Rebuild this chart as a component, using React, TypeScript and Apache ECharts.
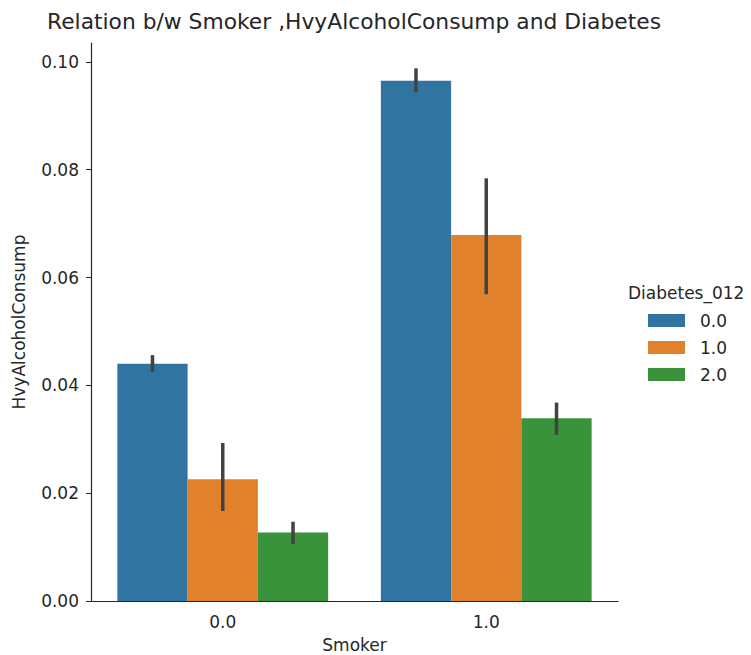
import React, { useEffect, useRef } from "react";
import * as echarts from "echarts";

// Smoker categories on the x axis, Diabetes_012 levels as hue
const smokerCategories = ["0.0", "1.0"];
const diabetesLevels = ["0.0", "1.0", "2.0"];

// Mean HvyAlcoholConsump per (Smoker, Diabetes_012)
const meanDiabetes0 = [0.044, 0.0965];
const meanDiabetes1 = [0.0226, 0.0679];
const meanDiabetes2 = [0.0127, 0.0339];

// 95% confidence interval bounds [low, high] per smoker category
const ciDiabetes0 = [
  [0.0425, 0.0456],
  [0.0944, 0.0988],
];
const ciDiabetes1 = [
  [0.0167, 0.0293],
  [0.0569, 0.0784],
];
const ciDiabetes2 = [
  [0.0106, 0.0147],
  [0.0308, 0.0368],
];

const yTicks = [0, 0.02, 0.04, 0.06, 0.08, 0.1];

const palette = ["#3274a1", "#e1812c", "#3a923a"];
const FONT = "DejaVu Sans";
const INK = "#262626";

export default function App() {
  const ref = useRef<HTMLDivElement>(null);

  useEffect(() => {
    document.body.style.margin = "0";
    if (!ref.current) return;
    const chart = echarts.init(ref.current, undefined, { renderer: "svg" });

    const means = [meanDiabetes0, meanDiabetes1, meanDiabetes2];
    const cis = [ciDiabetes0, ciDiabetes1, ciDiabetes2];

    const errData: number[][] = [];
    cis.forEach((ci, hue) => {
      ci.forEach(([lo, hi], cat) => errData.push([cat, hue, lo, hi]));
    });

    const barSeries = diabetesLevels.map((lvl, i) => ({
      name: lvl,
      type: "bar",
      data: means[i],
      barGap: "0%",
      barCategoryGap: "20%",
      itemStyle: { color: palette[i] },
      z: 2,
    }));

    chart.setOption({
      animation: false,
      textStyle: { fontFamily: FONT },
      title: {
        text: "Relation b/w Smoker ,HvyAlcoholConsump and Diabetes",
        left: 354,
        textAlign: "center",
        top: 10,
        padding: 0,
        textStyle: { fontFamily: FONT, fontSize: 21.8, fontWeight: "normal", color: INK },
      },
      legend: {
        orient: "vertical",
        left: 648,
        top: 312,
        padding: 0,
        itemWidth: 37,
        itemHeight: 13,
        itemGap: 10,
        icon: "rect",
        data: diabetesLevels,
        textStyle: { fontFamily: FONT, fontSize: 17, color: INK, padding: [0, 0, 0, 10] },
      },
      graphic: [
        {
          type: "text",
          left: 628,
          top: 284,
          style: { text: "Diabetes_012", fontFamily: FONT, fontSize: 17, fill: INK },
        },
      ],
      grid: {
        left: 91,
        right: 133,
        top: 43,
        bottom: 54,
        containLabel: false,
        outerBoundsMode: "none",
      },
      xAxis: {
        type: "category",
        data: smokerCategories,
        name: "Smoker",
        nameLocation: "middle",
        nameGap: 35,
        nameTextStyle: { fontFamily: FONT, fontSize: 17, color: INK },
        axisLine: { lineStyle: { color: INK, width: 1.2 } },
        axisTick: { alignWithLabel: true, length: 5, lineStyle: { color: INK } },
        axisLabel: { fontFamily: FONT, fontSize: 17, color: INK, margin: 12 },
      },
      yAxis: {
        type: "value",
        min: 0,
        max: 0.1035,
        name: "HvyAlcoholConsump",
        nameLocation: "middle",
        nameGap: 64,
        nameTextStyle: { fontFamily: FONT, fontSize: 17, color: INK },
        splitLine: { show: false },
        axisLine: { show: true, lineStyle: { color: INK, width: 1.2 } },
        axisTick: { show: true, length: 5, customValues: yTicks, lineStyle: { color: INK } },
        axisLabel: {
          fontFamily: FONT,
          fontSize: 17,
          color: INK,
          margin: 12,
          customValues: yTicks,
          formatter: (v: number) => v.toFixed(2),
        },
      },
      series: [
        ...barSeries,
        {
          type: "custom",
          name: "ci",
          z: 5,
          data: errData,
          encode: { x: 0, y: [2, 3] },
          renderItem: (params: any, api: any) => {
            const cat = api.value(0);
            const hue = api.value(1);
            const lo = api.coord([cat, api.value(2)]);
            const hi = api.coord([cat, api.value(3)]);
            const band = api.size([1, 0])[0];
            const bw = (band * 0.8) / 3;
            const x = lo[0] + (hue - 1) * bw;
            return {
              type: "line",
              shape: { x1: x, y1: lo[1], x2: x, y2: hi[1] },
              style: { stroke: "#424242", lineWidth: 3.5 },
            };
          },
        },
      ],
    });

    return () => chart.dispose();
  }, []);

  return <div ref={ref} style={{ width: 751, height: 655 }} />;
}
